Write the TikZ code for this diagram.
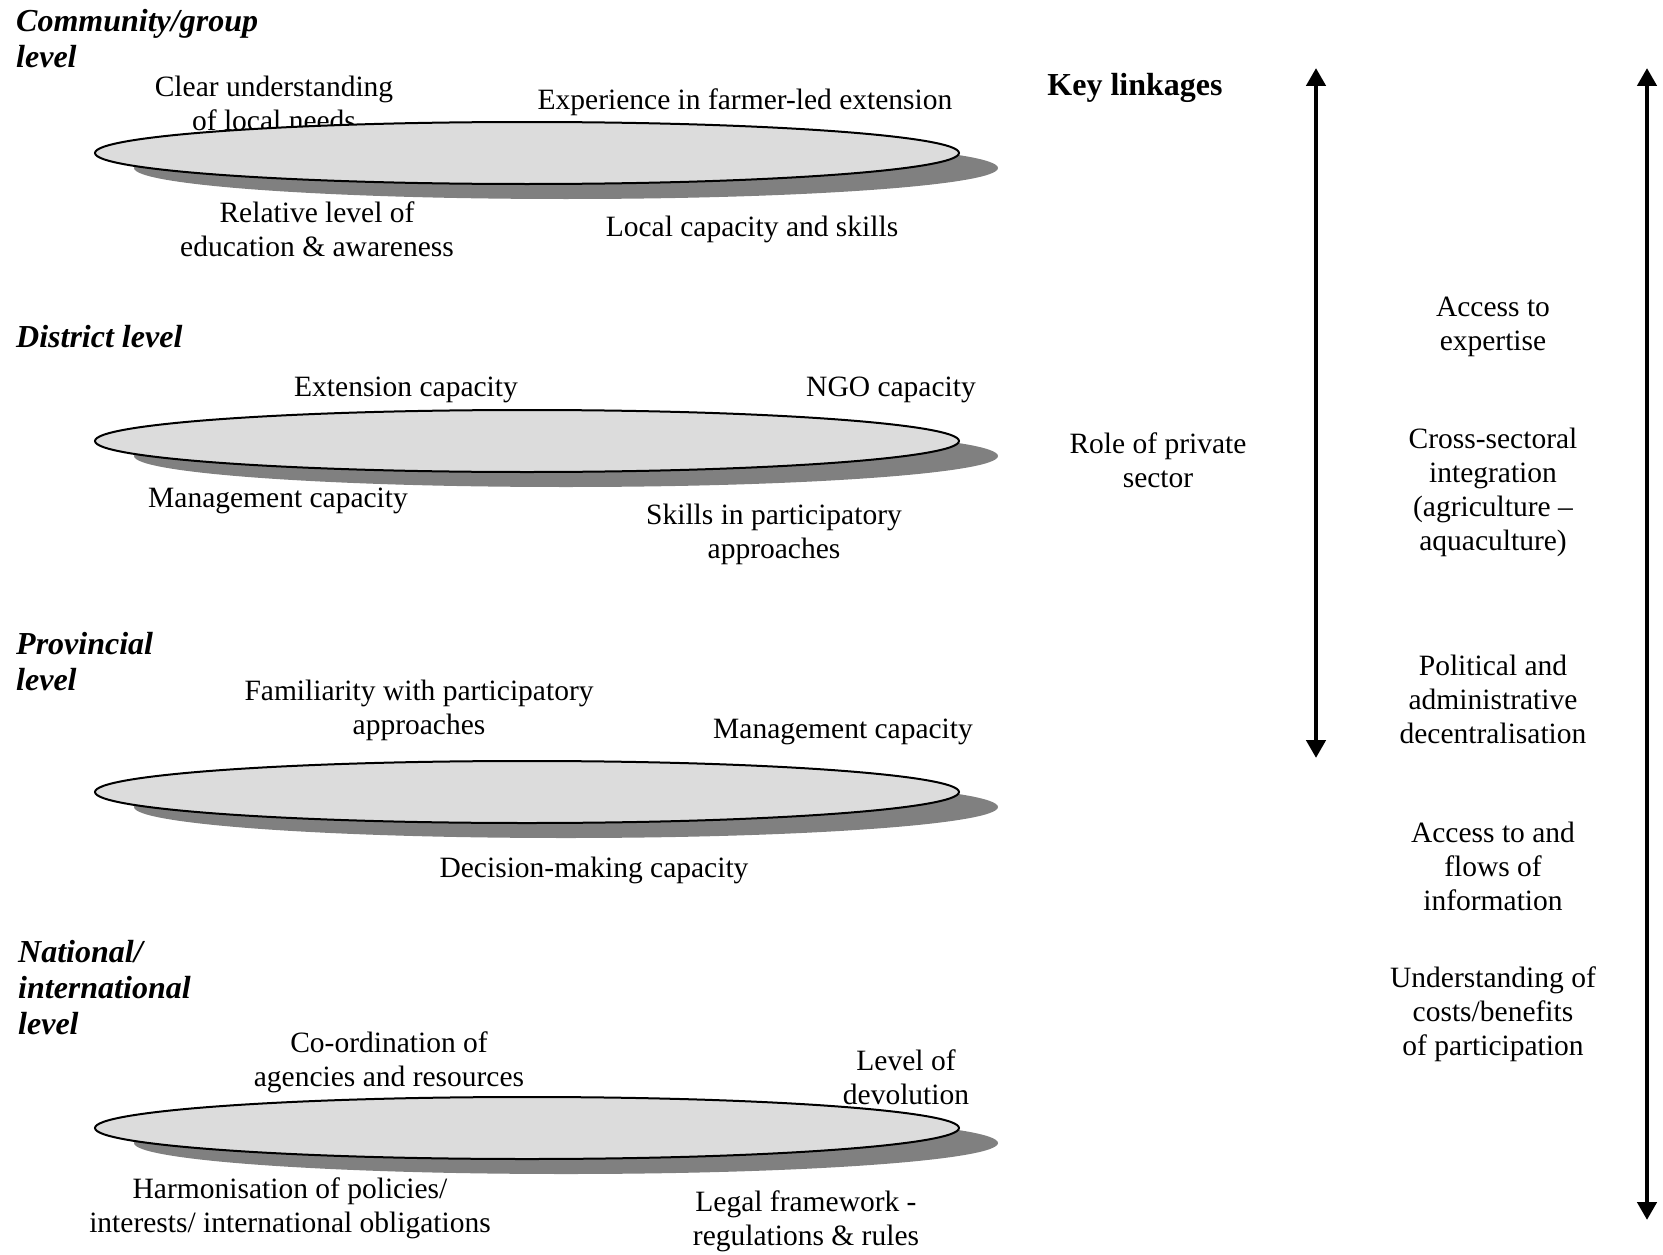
\documentclass[tikz,border=0pt]{standalone}
\usepackage{fontspec}
\setmainfont{Liberation Serif}
\usetikzlibrary{arrows.meta}
\definecolor{ellfill}{RGB}{220,220,220}
\definecolor{shadowgray}{RGB}{128,128,128}
\begin{document}
\begin{tikzpicture}[x=1pt,y=-1pt,
  lbl/.style={align=center, font=\fontsize{29.5}{34}\selectfont, inner sep=0pt},
  lvl/.style={anchor=west, align=left, font=\fontsize{32}{36}\selectfont\bfseries\itshape, inner sep=0pt},
  disc/.style={draw=black, line width=2pt, fill=ellfill},
  shd/.style={fill=shadowgray},
  linkarrow/.style={line width=4.8pt, {Triangle[width=19pt,length=18pt]}-{Triangle[width=19pt,length=18pt]}}
]
\path[use as bounding box] (0,0) rectangle (1663,1255);

% level titles
\node[lvl] (t1) at (16,39) {Community/group\\level};
\node[lvl] (t2) at (16,337) {District level};
\node[lvl] (t3) at (16,662) {Provincial\\level};
\node[lvl] (t4) at (18,988) {National/\\international\\level};

% labels (drawn before the discs)
\node[lbl] (a1) at (274,103) {Clear understanding\\of local needs};
\node[lbl] (a2) at (745,102) {Experience in farmer-led extension};
\node[lbl] (a3) at (317,229) {Relative level of\\education \& awareness};
\node[lbl] (a4) at (752,229) {Local capacity and skills};

\node[lbl] (b1) at (406,390) {Extension capacity};
\node[lbl] (b2) at (891,390) {NGO capacity};
\node[lbl] (b3) at (278,501) {Management capacity};
\node[lbl] (b4) at (774,534) {Skills in participatory\\approaches};

\node[lbl] (c1) at (419,710) {Familiarity with participatory\\approaches};
\node[lbl] (c2) at (843,732) {Management capacity};
\node[lbl] (c3) at (594,870) {Decision-making capacity};

\node[lbl] (d1) at (389,1062) {Co-ordination of\\agencies and resources};
\node[lbl] (d2) at (906,1077) {Level of\\devolution};
\node[lbl] (d3) at (290,1208) {Harmonisation of policies/\\interests/ international obligations};
\node[lbl] (d4) at (806,1221) {Legal framework -\\regulations \& rules};

% discs
\foreach \cy/\nm in {153/e1, 441/e2, 792/e3, 1128/e4}{
  \fill[shd] (566,\cy+15) ellipse [x radius=432, y radius=31];
  \draw[disc] (527,\cy) ellipse [x radius=432, y radius=31];
}

% key linkages
\node[font=\fontsize{32}{36}\selectfont\bfseries, inner sep=0pt] (key) at (1135,88) {Key linkages};
\node[lbl] (r0) at (1158,460) {Role of private\\sector};

\node[lbl] (r1) at (1493,327) {Access to\\expertise};
\node[lbl] (r2) at (1493,492) {Cross-sectoral\\integration\\(agriculture --\\aquaculture)};
\node[lbl] (r3) at (1493,699) {Political and\\administrative\\decentralisation};
\node[lbl] (r4) at (1493,866) {Access to and\\flows of\\information};
\node[lbl] (r5) at (1493,1014) {Understanding of\\costs/benefits\\of participation};

% arrows
\coordinate (la1) at (1316,68);
\coordinate (la2) at (1316,758);
\coordinate (ra1) at (1647,68);
\coordinate (ra2) at (1647,1220);
\draw[linkarrow] (la1) -- (la2);
\draw[linkarrow] (ra1) -- (ra2);
\end{tikzpicture}
\end{document}
